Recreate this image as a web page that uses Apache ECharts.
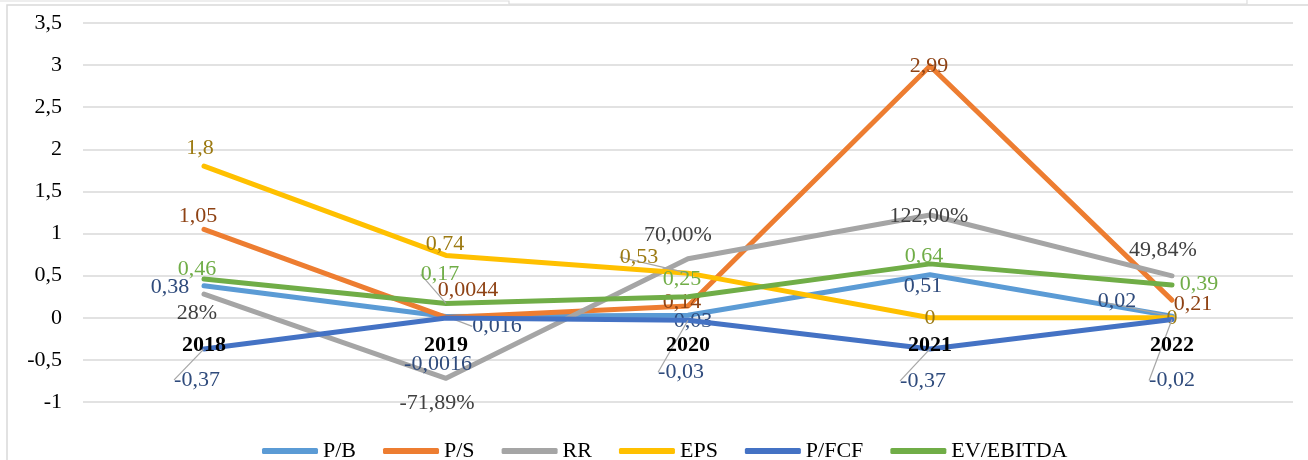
<!DOCTYPE html>
<html>
<head>
<meta charset="utf-8">
<script src="https://cdn.jsdelivr.net/npm/echarts@6/dist/echarts.min.js"></script>
<style>
  html, body { margin: 0; padding: 0; background: #fff; }
  #chart { width: 1308px; height: 460px; }
</style>
</head>
<body>
<div id="chart"></div>
<script>
// ---- data ----
var years = ['2018', '2019', '2020', '2021', '2022'];
var pb = [0.38, 0.016, 0.03, 0.51, 0.02];
var ps = [1.05, 0.0044, 0.14, 2.99, 0.21];
var rrPercent = [28, -71.89, 70, 122, 49.84];
var rrLabels = ['28%', '-71,89%', '70,00%', '122,00%', '49,84%'];
var eps = [1.8, 0.74, 0.53, 0, 0];
var pfcf = [-0.37, -0.0016, -0.03, -0.37, -0.02];
var evEbitda = [0.46, 0.17, 0.25, 0.64, 0.39];
var seriesNames = ['P/B', 'P/S', 'RR', 'EPS', 'P/FCF', 'EV/EBITDA'];
var yTicks = { min: -1, max: 3.5, interval: 0.5 };

// ---- styling / label layout (kept separate from data) ----
var FONT = 'Liberation Serif';
var lineColors = ['#5B9BD5', '#ED7D31', '#A5A5A5', '#FFC000', '#4472C4', '#70AD47'];
var labelColors = ['#2F4B7C', '#8E4214', '#404040', '#9C7A12', '#2F4B7C', '#70AD47'];
var labelShift = [
  [[-34, 1], [51, 10], [5, 6], [-7, 11], [-55, -15]],
  [[-6, -13], [22, -27], [-6, -4], [-1, 0], [21, 4]],
  [[-7, 19], [-9, 25], [-10, -24], [-1, 1], [-9, -26]],
  [[-4, -18], [-1, -11], [-49, -16], [0, 0], [0, 0]],
  [[-7, 31], [-8, 46], [-7, 52], [-7, 32], [0, 61]],
  [[-7, -10], [-6, -29], [-6, -18], [-6, -8], [27, -1]]
];
var leader = [
  [false, true, false, false, true],
  [false, false, false, false, false],
  [false, false, false, false, false],
  [false, false, true, false, false],
  [true, false, true, true, true],
  [false, true, false, false, false]
];

function fmt(v) { return String(v).replace('.', ','); }

var values = [pb, ps, rrPercent.map(function (v) { return v / 100; }), eps, pfcf, evEbitda];

var series = values.map(function (arr, si) {
  return {
    name: seriesNames[si],
    type: 'line',
    symbol: 'circle',
    symbolSize: 0,
    showSymbol: true,
    lineStyle: { width: 5, color: lineColors[si], cap: 'round', join: 'round' },
    itemStyle: { color: lineColors[si] },
    emphasis: { disabled: true },
    label: {
      show: true,
      position: 'inside',
      fontFamily: FONT,
      fontSize: 22,
      color: labelColors[si],
      formatter: function (p) {
        return si === 2 ? rrLabels[p.dataIndex] : fmt(arr[p.dataIndex]);
      }
    },
    labelLine: {
      show: false,
      lineStyle: { color: '#A6A6A6', width: 1.2 }
    },
    labelLayout: function (p) {
      var s = labelShift[si][p.dataIndex];
      return { dx: s[0], dy: s[1] };
    },
    data: arr.map(function (v, i) {
      return { value: v, labelLine: { show: leader[si][i], lineStyle: { color: '#A6A6A6', width: 1.2 } } };
    }),
    z: 2 + si
  };
});

var chart = echarts.init(document.getElementById('chart'), null, { renderer: 'canvas' });
chart.setOption({
  animation: false,
  backgroundColor: '#ffffff',
  textStyle: { fontFamily: FONT },
  graphic: [
    { type: 'rect', shape: { x: 7, y: 5, width: 1320, height: 480 }, style: { fill: 'none', stroke: '#D9D9D9', lineWidth: 1.5 }, silent: true, z: -1 },
    { type: 'polyline', shape: { points: [[0, 1], [509, 1], [509, 4], [1247, 4], [1247, 0]] }, style: { fill: 'none', stroke: '#DDDDDD', lineWidth: 1.2 }, silent: true, z: -1 }
  ],
  grid: { left: 83, right: 15, top: 23, bottom: 58, containLabel: false },
  legend: {
    top: 435,
    left: 257,
    icon: 'roundRect',
    itemWidth: 56,
    itemHeight: 6,
    itemGap: 27,
    textStyle: { fontFamily: FONT, fontSize: 22, color: '#000' },
    data: seriesNames
  },
  xAxis: {
    type: 'category',
    data: years,
    boundaryGap: true,
    offset: 0,
    axisLine: { show: false, onZero: false },
    axisTick: { show: false },
    axisLabel: { fontFamily: FONT, fontSize: 22, fontWeight: 'bold', color: '#000', margin: 17 },
    z: 20
  },
  yAxis: {
    type: 'value',
    min: yTicks.min,
    max: yTicks.max,
    interval: yTicks.interval,
    axisLine: { show: false },
    axisTick: { show: false },
    splitLine: { lineStyle: { color: '#D9D9D9', width: 1.5 } },
    axisLabel: { fontFamily: FONT, fontSize: 22, color: '#000', margin: 21, formatter: function (v) { return fmt(v); } }
  },
  series: series
});

// place the category axis labels at the value 0 line, measured through the value scale
var yZero = chart.convertToPixel({ yAxisIndex: 0 }, 0);
var yBottom = chart.convertToPixel({ yAxisIndex: 0 }, yTicks.min);
chart.setOption({ xAxis: { offset: -(yBottom - yZero) } });
</script>
</body>
</html>
